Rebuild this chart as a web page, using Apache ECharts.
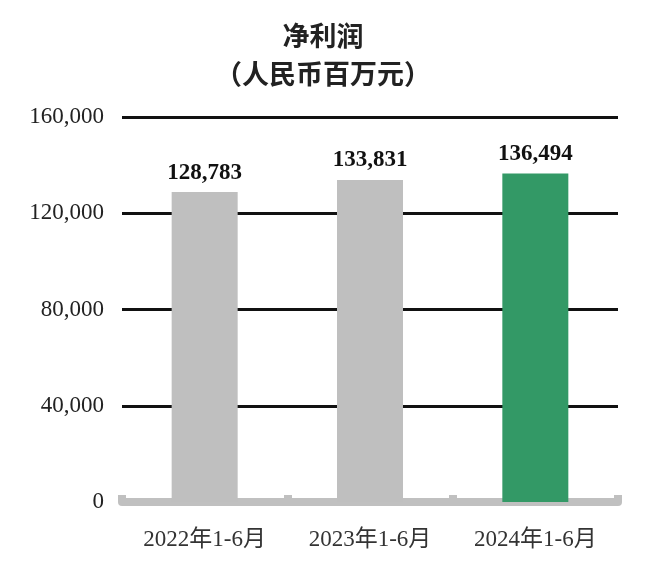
<!DOCTYPE html>
<html>
<head>
<meta charset="utf-8">
<script src="https://cdn.jsdelivr.net/npm/echarts@6/dist/echarts.min.js"></script>
<style>html,body{margin:0;padding:0;background:#fff}#c{width:660px;height:572px}</style>
</head>
<body>
<div id="c"></div>
<script>
const categories = ['2022年1-6月', '2023年1-6月', '2024年1-6月'];
const netProfit = [128783, 133831, 136494];
const barColors = ['#bfbfbf', '#bfbfbf', '#339966'];
const yTicks = [0, 40000, 80000, 120000, 160000];

const chart = echarts.init(document.getElementById('c'));
const fmt = v => v.toLocaleString('en-US');
chart.setOption({
  animation: false,
  title: {
    text: '净利润\n（人民币百万元）',
    left: 318, top: 12, textAlign: 'center',
    textStyle: { fontFamily: 'Noto Sans CJK SC', fontSize: 27, fontWeight: 'bold', color: '#222', lineHeight: 38 }
  },
  grid: { left: 122, right: 42, top: 117, bottom: 70 },
  xAxis: {
    type: 'category', data: categories,
    axisLine: { lineStyle: { color: '#c0c0c0', width: 8 } },
    axisTick: { show: true, inside: true, interval: 0, length: 7, lineStyle: { color: '#c0c0c0', width: 8 } },
    axisLabel: { interval: 0, hideOverlap: false, margin: 26, fontFamily: 'Liberation Serif, Noto Sans CJK SC', fontSize: 23, color: '#333' }
  },
  yAxis: {
    type: 'value', min: yTicks[0], max: yTicks[yTicks.length - 1], interval: 40000,
    axisLine: { show: false }, axisTick: { show: false },
    axisLabel: { margin: 18, fontFamily: 'Liberation Serif', fontSize: 23, color: '#222', formatter: v => fmt(v) },
    splitLine: { lineStyle: { color: '#111', width: 3 } }
  },
  series: [{
    type: 'bar', barWidth: 66, z: 3,
    data: netProfit.map((v, i) => ({ value: v, itemStyle: { color: barColors[i] } })),
    label: { show: true, position: 'top', distance: 8, fontFamily: 'Liberation Serif', fontWeight: 'bold', fontSize: 23, color: '#111', formatter: p => fmt(p.value) }
  }]
});
</script>
</body>
</html>
